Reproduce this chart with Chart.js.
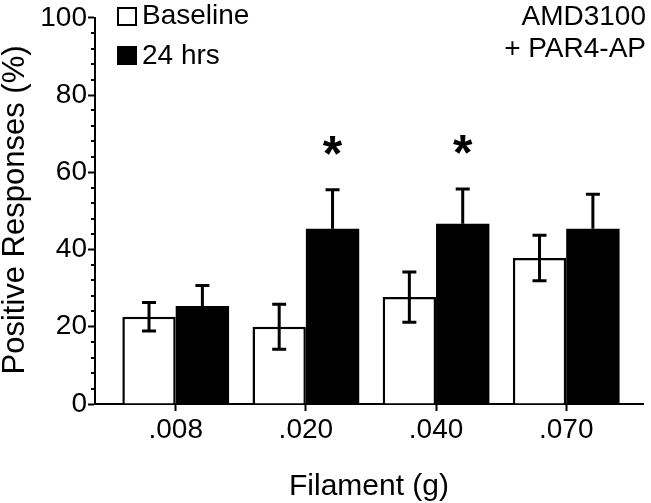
<!DOCTYPE html>
<html><head><meta charset="utf-8">
<script src="https://cdn.jsdelivr.net/npm/chart.js@4.4.1/dist/chart.umd.min.js"></script>
<style>html,body{margin:0;background:#fff}#wrap{width:651px;height:503px}</style>
</head><body><div id="wrap"><canvas id="c"></canvas></div>
<script>
const filaments = ['.008', '.020', '.040', '.070'];
const baseline = [22.6, 20.0, 27.7, 37.8];
const baselineErr = [3.7, 5.8, 6.5, 5.9];
const hrs24 = [25.4, 45.4, 46.7, 45.4];
const hrs24Err = [5.3, 10.1, 9.0, 8.9];
const starred = [false, true, true, false];
const yTicks = [0, 20, 40, 60, 80, 100];
const minorStep = 4;

const FONT = "'Liberation Sans', Arial, sans-serif";
Chart.defaults.font.family = FONT;
Chart.defaults.color = '#000';

// error bars, asterisks, minor ticks, legend and titles
const extras = {
  id: 'extras',
  afterDatasetsDraw(chart) {
    const c = chart.ctx, y = chart.scales.y;
    c.save();
    c.strokeStyle = '#000'; c.lineWidth = 3;
    chart.data.datasets.forEach((ds, d) => {
      chart.getDatasetMeta(d).data.forEach((bar, i) => {
        const v = ds.data[i].y, e = ds.errs[i];
        const top = y.getPixelForValue(v + e);
        const bot = ds.both ? y.getPixelForValue(v - e) : y.getPixelForValue(v);
        c.beginPath();
        c.moveTo(bar.x, top); c.lineTo(bar.x, bot);
        c.moveTo(bar.x - 7, top); c.lineTo(bar.x + 7, top);
        if (ds.both) { c.moveTo(bar.x - 7, bot); c.lineTo(bar.x + 7, bot); }
        c.stroke();
        if (ds.stars && ds.stars[i]) {
          c.fillStyle = '#000';
          c.font = 'bold 50px ' + FONT;
          c.textAlign = 'center'; c.textBaseline = 'alphabetic';
          c.fillText('*', bar.x, top - 19);
        }
      });
    });
    c.restore();
  },
  afterDraw(chart) {
    const c = chart.ctx, y = chart.scales.y, a = chart.chartArea;
    c.save();
    c.strokeStyle = '#000'; c.lineWidth = 2;
    c.beginPath();
    for (let v = 0; v <= 100; v += minorStep) {
      if (v % 20 === 0) continue;
      const py = Math.round(y.getPixelForValue(v));
      c.moveTo(a.left - 4, py); c.lineTo(a.left, py);
    }
    c.stroke();

    // legend
    c.lineWidth = 2;
    c.fillStyle = '#fff'; c.fillRect(118, 8, 18, 17); c.strokeRect(118, 8, 18, 17);
    c.fillStyle = '#000'; c.fillRect(117, 46, 20, 19);
    c.font = '28px ' + FONT;
    c.textAlign = 'left'; c.textBaseline = 'alphabetic';
    c.fillText('Baseline', 142, 24);
    c.fillText('24 hrs', 142, 64);

    c.textAlign = 'right';
    c.fillText('AMD3100', 646, 25);
    c.fillText('+ PAR4-AP', 646, 57);

    c.textAlign = 'center';
    c.font = '30px ' + FONT;
    c.fillText('Filament (g)', (a.left + a.right) / 2, 495);

    c.translate(24, 210);
    c.rotate(-Math.PI / 2);
    c.font = '31px ' + FONT;
    c.fillText('Positive Responses (%)', 0, 0);
    c.restore();
  }
};

new Chart(document.getElementById('c'), {
  type: 'bar',
  data: {
    datasets: [
      {
        label: 'Baseline',
        data: baseline.map((v, i) => ({x: i, y: v})),
        backgroundColor: '#fff', borderColor: '#000', borderWidth: 2.5,
        errs: baselineErr, both: true
      },
      {
        label: '24 hrs',
        data: hrs24.map((v, i) => ({x: i, y: v})),
        backgroundColor: '#000', borderColor: '#000', borderWidth: 0,
        errs: hrs24Err, both: false, stars: starred
      }
    ]
  },
  options: {
    responsive: true, maintainAspectRatio: false, animation: false,
    layout: {padding: {top: 8, right: 8, left: 0, bottom: 0}},
    categoryPercentage: 0.82, barPercentage: 1,
    plugins: {legend: {display: false}, tooltip: {enabled: false}},
    scales: {
      x: {
        type: 'linear', min: -0.62, max: 3.59, offset: false,
        afterBuildTicks: s => { s.ticks = filaments.map((_, i) => ({value: i})); },
        afterFit: s => { s.height = 99; },
        ticks: {callback: v => filaments[v], font: {size: 28}, padding: 2, maxRotation: 0, autoSkip: false},
        grid: {offset: false, drawOnChartArea: false, tickLength: 7, tickColor: '#000', tickWidth: 2},
        border: {color: '#000', width: 2}
      },
      y: {
        min: 0, max: 100,
        afterBuildTicks: s => { s.ticks = yTicks.map(v => ({value: v})); },
        afterFit: s => { s.width = 95; },
        ticks: {font: {size: 28}, padding: 1},
        grid: {drawOnChartArea: false, tickLength: 7, tickColor: '#000', tickWidth: 2},
        border: {color: '#000', width: 2}
      }
    }
  },
  plugins: [extras]
});
</script>
</body></html>
